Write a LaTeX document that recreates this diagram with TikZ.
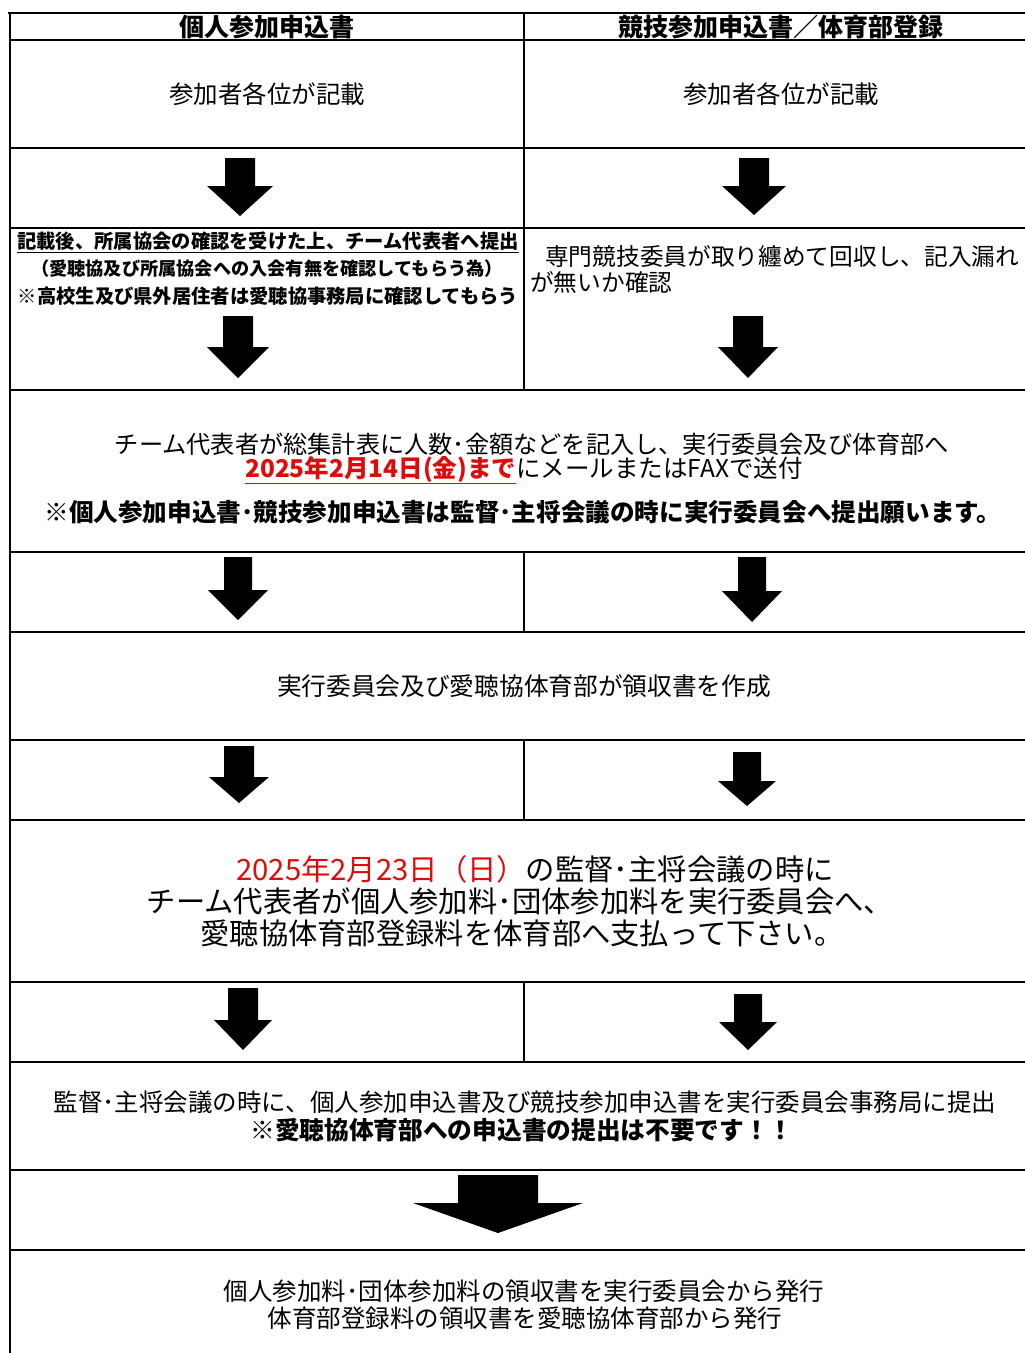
\documentclass[tikz,border=0pt]{standalone}
\usepackage{fontspec}
\setmainfont{Noto Sans CJK JP}
\definecolor{myred}{RGB}{225,10,10}
\begin{document}
\begin{tikzpicture}[x=1pt,y=-1pt,
  rule/.style={line width=2.4pt},
  vrule/.style={line width=1.9pt},
  txt/.style={inner sep=0pt,anchor=center},
  pics/darrow/.style args={#1/#2/#3/#4}{code={
    \fill (-#1,0) -- (#1,0) -- (#1,#3) -- (#2,#3) -- (0,#4) -- (-#2,#3) -- (-#1,#3) -- cycle;}}
]
\useasboundingbox (0,0) rectangle (1025,1353);
\clip (0,0) rectangle (1025,1353);
% horizontal rules
\draw[line width=2.8pt] (8,13) -- (1040,13);
\foreach \yy in {40,148,228,390,552,632,740,820,982,1062,1170,1250}
  \draw[rule] (9,\yy) -- (1040,\yy);
% vertical rules
\draw[vrule] (10,12) -- (10,1353);
\draw[vrule] (524,12) -- (524,390);
\draw[vrule] (524,552) -- (524,632);
\draw[vrule] (524,740) -- (524,820);
\draw[vrule] (524,982) -- (524,1062);

% header
\node[txt,font=\fontsize{25}{28}\selectfont\bfseries] (h1) at (267,27) {個人参加申込書};
\node[txt,font=\fontsize{25}{28}\selectfont\bfseries] (h2) at (781,27) {競技参加申込書／体育部登録};

% row 1
\node[txt,font=\fontsize{24.5}{28}\selectfont] (r1a) at (267,94) {参加者各位が記載};
\node[txt,font=\fontsize{24.5}{28}\selectfont] (r1b) at (781,94) {参加者各位が記載};

% arrows row
\pic at (240,158) {darrow=15/33/28/58};
\pic at (754,158) {darrow=15/32/28/57};

% row 3 left
\node[txt,font=\fontsize{19.3}{22}\selectfont\bfseries] (l3a) at (268,242) {\underline{記載後、所属協会の確認を受けた上、チーム代表者へ提出}};
\node[txt,font=\fontsize{18.2}{22}\selectfont\bfseries] (l3b) at (267,269) {（愛聴協及び所属協会への入会有無を確認してもらう為）};
\node[txt,font=\fontsize{19.3}{22}\selectfont\bfseries] (l3c) at (268,296) {※高校生及び県外居住者は愛聴協事務局に確認してもらう};
% row 3 right
\node[txt,anchor=west,font=\fontsize{23.7}{26}\selectfont] (r3a) at (545,256) {専門競技委員が取り纏めて回収し、記入漏れ};
\node[txt,anchor=west,font=\fontsize{23.7}{26}\selectfont] (r3b) at (530,282) {が無いか確認};
\pic at (238,316) {darrow=15/31/31/62};
\pic at (748,316) {darrow=15/30/31/62};

% row 4
\node[txt,font=\fontsize{24.2}{28}\selectfont] (r4a) at (532,444) {チーム代表者が総集計表に人数･金額などを記入し、実行委員会及び体育部へ};
\node[txt,font=\fontsize{24.5}{28}\selectfont] (r4b) at (524,470) {{\color{myred}\bfseries\underline{2025年2月14日(金)まで}}にメールまたはFAXで送付};
\node[txt,font=\fontsize{24.6}{28}\selectfont\bfseries] (r4c) at (523,512) {※個人参加申込書･競技参加申込書は監督･主将会議の時に実行委員会へ提出願います。};

\pic at (238,557) {darrow=14/30/33/63};
\pic at (752,557) {darrow=14/30/34/65};

% row 5
\node[txt,font=\fontsize{24.7}{28}\selectfont] (r5) at (524,686) {実行委員会及び愛聴協体育部が領収書を作成};

\pic at (239,746) {darrow=15/30/31/57};
\pic at (747,752) {darrow=14/29/29/54};

% row 6
\node[txt,font=\fontsize{29.3}{32}\selectfont] (r6a) at (535,869) {{\color{myred}2025年2月23日（日）}の監督･主将会議の時に};
\node[txt,font=\fontsize{29.3}{32}\selectfont] (r6b) at (520,901) {チーム代表者が個人参加料･団体参加料を実行委員会へ、};
\node[txt,font=\fontsize{29.3}{32}\selectfont] (r6c) at (522,933) {愛聴協体育部登録料を体育部へ支払って下さい。};

\pic at (243,988) {darrow=15/29/32/62};
\pic at (748,994) {darrow=14/29/28/56};

% row 7
\node[txt,font=\fontsize{24.5}{28}\selectfont] (r7a) at (525,1102) {監督･主将会議の時に、個人参加申込書及び競技参加申込書を実行委員会事務局に提出};
\node[txt,font=\fontsize{24.7}{28}\selectfont\bfseries] (r7b) at (522,1130) {※愛聴協体育部への申込書の提出は不要です！！};

\pic at (498,1175) {darrow=40/85/28/58};

% row 8
\node[txt,font=\fontsize{24.5}{28}\selectfont] (r8a) at (524,1291) {個人参加料･団体参加料の領収書を実行委員会から発行};
\node[txt,font=\fontsize{24.5}{28}\selectfont] (r8b) at (525,1318) {体育部登録料の領収書を愛聴協体育部から発行};
\end{tikzpicture}
\end{document}
